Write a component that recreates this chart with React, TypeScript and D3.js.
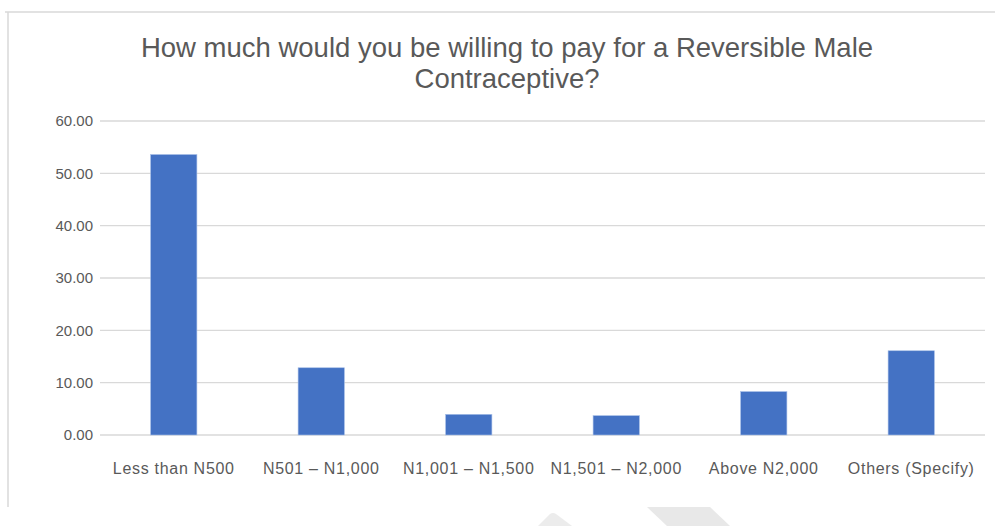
import React from "react";
import * as d3 from "d3";

const categories = [
  "Less than N500",
  "N501 – N1,000",
  "N1,001 – N1,500",
  "N1,501 – N2,000",
  "Above N2,000",
  "Others (Specify)",
];
const values = [53.6, 12.85, 3.95, 3.7, 8.3, 16.1];
const yTicks = [0, 10, 20, 30, 40, 50, 60];
const titleLines = [
  "How much would you be willing to pay for a Reversible Male",
  "Contraceptive?",
];

const W = 995;
const H = 526;
const plot = { left: 100, right: 985, top: 121, bottom: 435 };

export default function App() {
  const x = d3
    .scaleBand<string>()
    .domain(categories)
    .range([plot.left, plot.right])
    .paddingInner(0.686)
    .paddingOuter(0.343);
  const y = d3.scaleLinear().domain([0, 60]).range([plot.bottom, plot.top]);
  const labelFont = "'Liberation Sans', Arial, sans-serif";

  return (
    <svg
      width={W}
      height={H}
      style={{ position: "absolute", left: 0, top: 0, background: "#fff" }}
    >
      {/* frame */}
      <line x1={5} y1={12} x2={W} y2={12} stroke="#d9d9d9" strokeWidth={1.5} />
      <line x1={8} y1={12} x2={8} y2={507} stroke="#d9d9d9" strokeWidth={1.5} />
      {/* watermark shapes */}
      <polygon points="647,507 710,507 730,526 667,526" fill="#e8e8e8" />
      <path d="M538,526 L550,514 Q553,512 556,514 L572,526 Z" fill="#ececec" />

      {/* title */}
      {titleLines.map((t, i) => (
        <text
          key={i}
          x={507}
          y={57 + i * 31}
          textAnchor="middle"
          fontFamily="'Liberation Sans', Arial, sans-serif"
          fontSize={27.5}
          fill="#595959"
        >
          {t}
        </text>
      ))}

      {/* gridlines + y labels */}
      {yTicks.map((t) => (
        <g key={t}>
          <line
            x1={plot.left}
            x2={plot.right}
            y1={y(t)}
            y2={y(t)}
            stroke="#d9d9d9"
            strokeWidth={1.3}
          />
          <text
            x={93}
            y={y(t)}
            dy="0.35em"
            textAnchor="end"
            fontFamily={labelFont}
            fontSize={15}
            fill="#595959"
          >
            {t.toFixed(2)}
          </text>
        </g>
      ))}

      {/* bars */}
      {values.map((v, i) => (
        <rect
          key={categories[i]}
          x={x(categories[i])}
          y={y(v)}
          width={x.bandwidth()}
          height={y(0) - y(v)}
          fill="#4472c4"
          stroke="#a9c0e8"
          strokeWidth={0.6}
        />
      ))}

      {/* x labels */}
      {categories.map((c) => (
        <text
          key={c}
          x={(x(c) as number) + x.bandwidth() / 2}
          y={474}
          textAnchor="middle"
          fontFamily={labelFont}
          fontSize={16}
          letterSpacing={0.7}
          fill="#595959"
        >
          {c}
        </text>
      ))}
    </svg>
  );
}
